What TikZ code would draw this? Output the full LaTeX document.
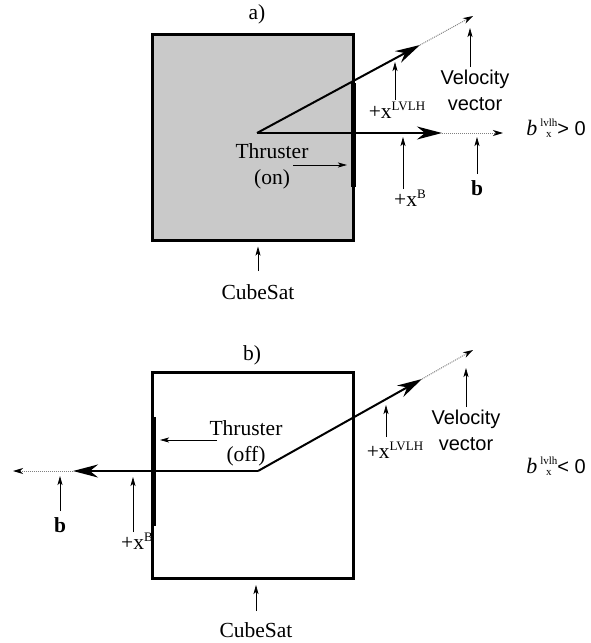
\documentclass[tikz,border=0pt]{standalone}
\usepackage{fontspec}
\setmainfont{Liberation Serif}
\setsansfont{Liberation Sans}
\usetikzlibrary{arrows.meta}
\newcommand{\supx}[1]{\raisebox{7.5pt}{\fontsize{13}{13}\selectfont #1}}
\newcommand{\bsign}[1]{{\fontsize{22}{22}\selectfont\itshape b}\hspace{3pt}%
  \raisebox{3pt}{\fontsize{11}{11}\selectfont\begin{tabular}{@{}c@{}}lvlh\\x\end{tabular}}%
  {\sffamily\fontsize{20}{20}\selectfont #1}}
\tikzset{
  cubebox/.style={rectangle, draw=black, line width=3pt, minimum width=201pt, minimum height=206pt, inner sep=0pt},
  thruster/.style={line width=5pt},
  vecarr/.style={line width=2pt, -{Stealth[length=25pt,width=13pt,inset=8pt]}},
  dotarr/.style={draw=black!50, line width=1pt, densely dotted, -{Stealth[length=10pt,width=6pt,inset=3pt,black]}},
  annarr/.style={line width=0.7pt, -{Stealth[length=9pt,width=5pt,inset=2pt]}},
  lbl/.style={inner sep=0pt, align=center, font=\fontsize{21.5}{26}\selectfont},
  sflbl/.style={inner sep=0pt, align=center, font=\sffamily\fontsize{20}{26}\selectfont},
}
\begin{document}
\begin{tikzpicture}[x=1pt,y=-1pt]
\useasboundingbox (0,0) rectangle (590,643);

% a) thruster on
\node[cubebox, fill=black!21] (sata) at (252.5,137) {};
\node[lbl] (ta) at (257,14) {a)};
\coordinate (oa) at (257,133);
\coordinate (va) at (420,45);
\coordinate (vaend) at (473,16);
\coordinate (ba) at (442,133);
\coordinate (baend) at (503,133);
\draw[thruster] (353,83) -- (353,187);
\draw[vecarr] (oa) -- (va);
\draw[dotarr] (va) -- (vaend);
\draw[vecarr] (oa) -- (ba);
\draw[dotarr] (ba) -- (baend);

\node[lbl] (thra) at (272,166) {Thruster\\(on)};
\coordinate (thra-from) at (293,165);
\coordinate (thra-to) at (347,165);
\draw[annarr] (thra-from) -- (thra-to);

\node[lbl] (lvlha) at (397,110) {+x\supx{LVLH}};
\coordinate (lvlha-from) at (395,100);
\coordinate (lvlha-to) at (395,62);
\draw[annarr] (lvlha-from) -- (lvlha-to);

\node[sflbl] (vela) at (475,90) {Velocity\\vector};
\coordinate (vela-from) at (470,67);
\coordinate (vela-to) at (470,28);
\draw[annarr] (vela-from) -- (vela-to);

\node[lbl] (xba) at (410,198) {+x\supx{B}};
\coordinate (xba-from) at (403,189);
\coordinate (xba-to) at (403,137);
\draw[annarr] (xba-from) -- (xba-to);

\node[lbl, font=\bfseries\fontsize{21.5}{26}\selectfont] (bla) at (477,188) {b};
\coordinate (bla-from) at (477,174);
\coordinate (bla-to) at (477,137);
\draw[annarr] (bla-from) -- (bla-to);

\node[inner sep=0pt] (signa) at (556,130) {\bsign{> 0}};

\node[lbl] (cuba) at (258,292) {CubeSat};
\draw[annarr] ([yshift=13pt]cuba.north) -- ([yshift=-5pt]sata.south -| cuba.north);

% b) thruster off
\node[cubebox] (satb) at (252.5,475.5) {};
\node[lbl] (tb) at (252,355) {b)};
\coordinate (ob) at (258,471);
\coordinate (vb) at (422,379);
\coordinate (vbend) at (473,350);
\coordinate (bb) at (73,471);
\coordinate (bbend) at (13,471);
\draw[thruster] (153,417) -- (153,526);
\draw[vecarr] (ob) -- (vb);
\draw[dotarr] (vb) -- (vbend);
\draw[vecarr] (ob) -- (bb);
\draw[dotarr] (bb) -- (bbend);

\node[lbl] (thrb) at (246,443) {Thruster\\(off)};
\coordinate (thrb-from) at (217,440);
\coordinate (thrb-to) at (160,440);
\draw[annarr] (thrb-from) -- (thrb-to);

\node[lbl] (lvlhb) at (395,450) {+x\supx{LVLH}};
\coordinate (lvlhb-from) at (386,437);
\coordinate (lvlhb-to) at (386,405);
\draw[annarr] (lvlhb-from) -- (lvlhb-to);

\node[sflbl] (velb) at (466,430) {Velocity\\vector};
\coordinate (velb-from) at (466,407);
\coordinate (velb-to) at (466,368);
\draw[annarr] (velb-from) -- (velb-to);

\node[lbl] (xbb) at (137,541) {+x\supx{B}};
\coordinate (xbb-from) at (133,532);
\coordinate (xbb-to) at (133,477);
\draw[annarr] (xbb-from) -- (xbb-to);

\node[lbl, font=\bfseries\fontsize{21.5}{26}\selectfont] (blb) at (60,525) {b};
\coordinate (blb-from) at (60,511);
\coordinate (blb-to) at (60,476);
\draw[annarr] (blb-from) -- (blb-to);

\node[inner sep=0pt] (signb) at (556,468) {\bsign{< 0}};

\node[lbl] (cubb) at (256,630) {CubeSat};
\draw[annarr] ([yshift=11pt]cubb.north) -- ([yshift=-5pt]satb.south -| cubb.north);
\end{tikzpicture}
\end{document}
